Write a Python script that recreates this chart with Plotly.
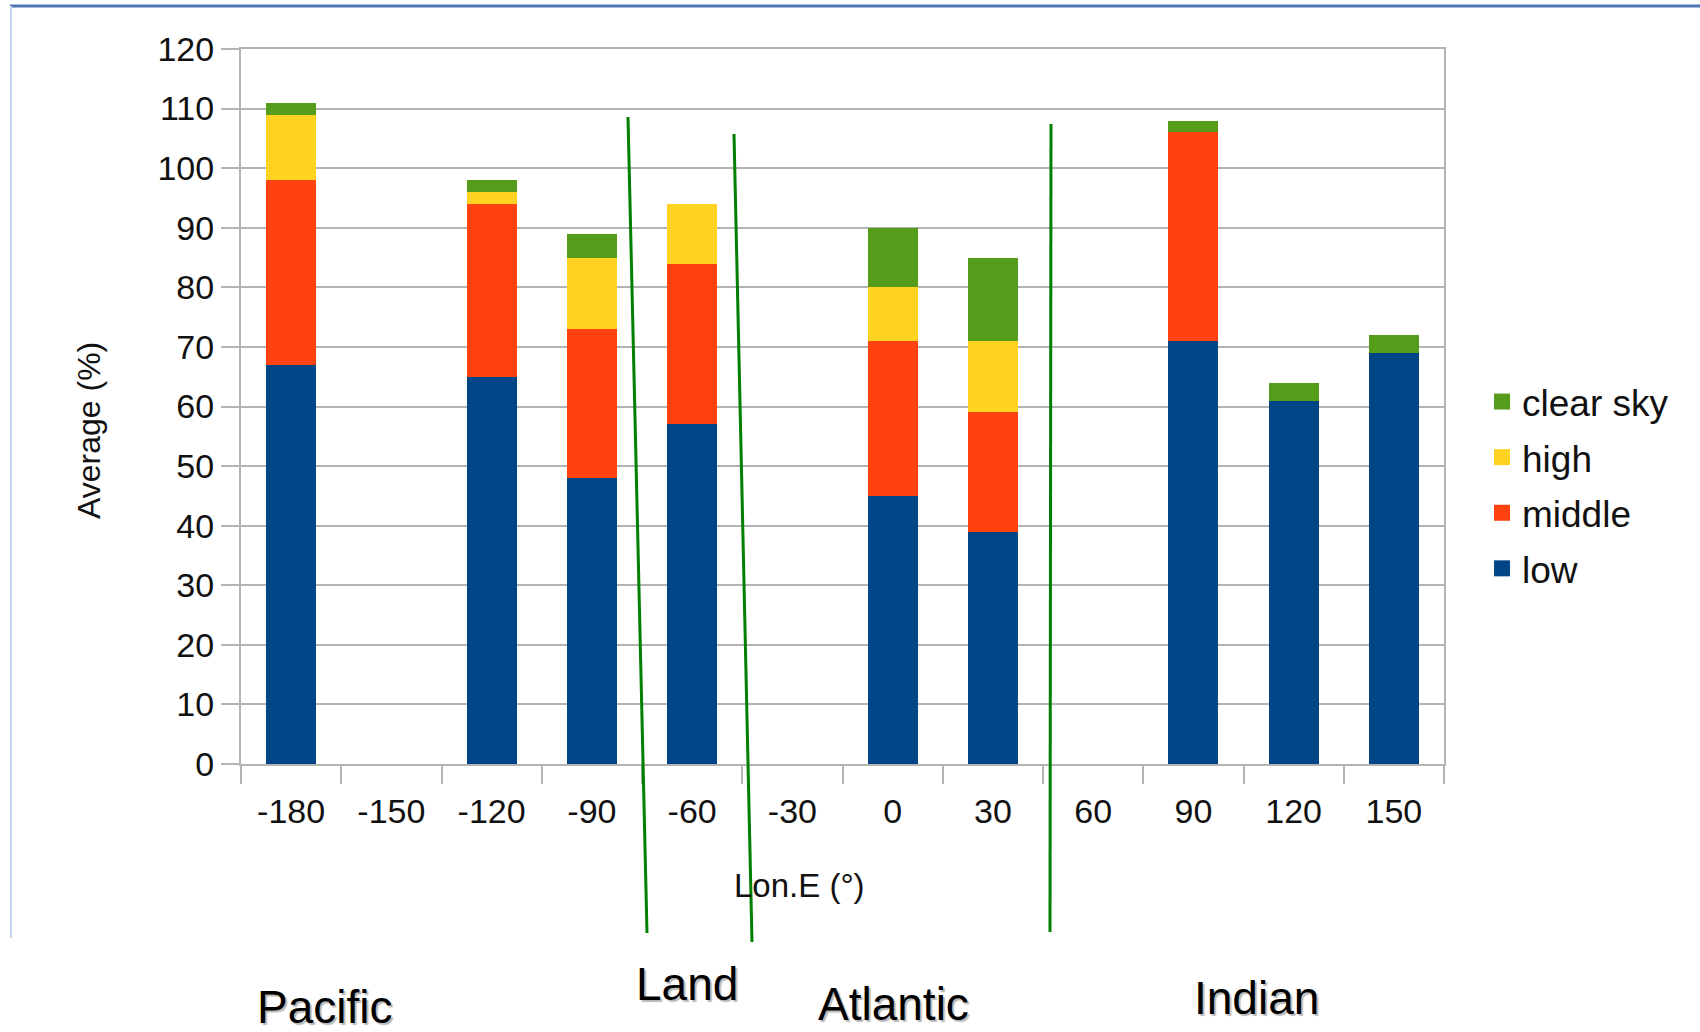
import plotly.graph_objects as go

# Longitude bins (degrees East)
lon_labels = ["-180", "-150", "-120", "-90", "-60", "-30", "0", "30", "60", "90", "120", "150"]

# Average cloud / clear-sky occurrence (%) per longitude bin
low = [67, 0, 65, 48, 57, 0, 45, 39, 0, 71, 61, 69]
middle = [31, 0, 29, 25, 27, 0, 26, 20, 0, 35, 0, 0]
high = [11, 0, 2, 12, 10, 0, 9, 12, 0, 0, 0, 0]
clear_sky = [2, 0, 2, 4, 0, 0, 10, 14, 0, 2, 3, 3]

series_names = ["low", "middle", "high", "clear sky"]
series_values = [low, middle, high, clear_sky]
series_colors = ["#004586", "#ff420e", "#ffd320", "#579d1c"]

y_ticks = list(range(0, 130, 10))

W, H = 1700, 1032
ML, MR, MT, MB = 241, 256, 49, 268
PW, PH = W - ML - MR, H - MT - MB


def px(x):
    return (x - ML) / PW


def py(y):
    return (H - MB - y) / PH


FONT = "Liberation Sans, Arial, sans-serif"
TXT = "#111111"
GRID = "#b3b3b3"

fig = go.Figure()

for name, vals, col in zip(series_names, series_values, series_colors):
    fig.add_trace(go.Bar(
        x=lon_labels, y=vals, name=name, marker=dict(color=col, line=dict(width=0)),
        showlegend=False, legendgroup=name,
    ))

# Legend entries with larger square swatches, top to bottom
for name, col in reversed(list(zip(series_names, series_colors))):
    fig.add_trace(go.Scatter(
        x=[None], y=[None], mode="markers", name=name, legendgroup=name,
        marker=dict(symbol="square", size=21, color=col, line=dict(width=0)),
    ))

fig.update_layout(
    width=W, height=H,
    margin=dict(l=ML, r=MR, t=MT, b=MB),
    paper_bgcolor="white", plot_bgcolor="white",
    barmode="stack", bargap=0.5,
    font=dict(family=FONT, color=TXT, size=34),
    legend=dict(
        x=px(1482), y=py(371), xanchor="left", yanchor="top",
        traceorder="grouped", tracegroupgap=4.5,
        font=dict(size=37, color=TXT, family=FONT),
        bgcolor="rgba(0,0,0,0)", itemwidth=30,
    ),
)

fig.update_xaxes(
    type="category", categoryorder="array", categoryarray=lon_labels,
    tickson="boundaries", ticks="outside", ticklen=18, tickwidth=2, tickcolor=GRID,
    ticklabelstandoff=16,
    showline=True, linecolor=GRID, linewidth=2, mirror=True,
    showgrid=False, zeroline=False,
    tickfont=dict(size=34, color=TXT, family=FONT),
)
fig.update_yaxes(
    range=[0, 120], tickvals=y_ticks, ticktext=[str(v) for v in y_ticks],
    ticks="outside", ticklen=18, tickwidth=2, tickcolor=GRID,
    showline=True, linecolor=GRID, linewidth=2, mirror=True,
    showgrid=True, gridcolor=GRID, gridwidth=2, zeroline=False,
    tickfont=dict(size=34, color=TXT, family=FONT),
)

# Axis titles
fig.add_annotation(text="Lon.E (°)", xref="paper", yref="paper", x=px(799), y=py(885),
                   xanchor="center", yanchor="middle", showarrow=False,
                   font=dict(size=33, color=TXT, family=FONT))
fig.add_annotation(text="Average (%)", xref="paper", yref="paper", x=px(89), y=py(431),
                   xanchor="center", yanchor="middle", showarrow=False, textangle=-90,
                   font=dict(size=32, color=TXT, family=FONT))

# Ocean basin / land labels
regions = [("Pacific", 324, 1007), ("Land", 687, 984), ("Atlantic", 893, 1004), ("Indian", 1256, 998)]
for label, cx, cy in regions:
    fig.add_annotation(text=label, xref="paper", yref="paper", x=px(cx), y=py(cy),
                       xanchor="center", yanchor="middle", showarrow=False,
                       font=dict(size=46, color="black", family=FONT,
                                 shadow="2px 2px 1px rgba(0,0,0,0.28)"))

# Basin separators
separators = [((628, 117), (647, 933)), ((734, 134), (752, 942)), ((1051, 124), (1050, 932))]
for (x0, y0), (x1, y1) in separators:
    fig.add_shape(type="line", xref="paper", yref="paper",
                  x0=px(x0), y0=py(y0), x1=px(x1), y1=py(y1),
                  line=dict(color="#008000", width=3), layer="above")

# Slide frame edges
fig.add_shape(type="line", xref="paper", yref="paper", x0=px(10), y0=py(6), x1=px(1700), y1=py(6),
              line=dict(color="#4f76b4", width=3), layer="above")
fig.add_shape(type="line", xref="paper", yref="paper", x0=px(11), y0=py(6), x1=px(11), y1=py(938),
              line=dict(color="#c5d6ee", width=2), layer="above")

fig.write_html("out.html")
